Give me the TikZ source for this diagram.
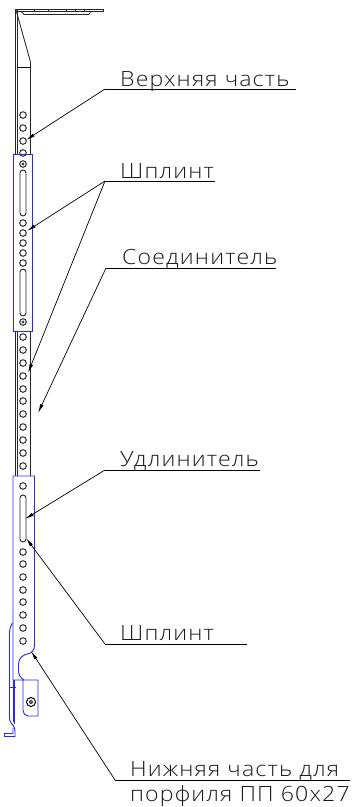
\documentclass[tikz,border=0pt]{standalone}
\usepackage{fontspec}
\setmainfont{Open Sans Light}[FakeStretch=1.1,LetterSpace=5.5]
\usetikzlibrary{arrows.meta}
\definecolor{partblue}{RGB}{40,40,245}
\tikzset{
  part/.style={draw=black!85,line width=0.85pt},
  bluepart/.style={draw=partblue,line width=0.95pt},
  hole/.style={circle,draw=black!85,line width=0.95pt,minimum size=6.6pt,inner sep=0pt},
  slot/.style={draw=black!85,line width=0.9pt,rounded corners=3pt},
  leader/.style={draw=black,line width=0.7pt},
  pointer/.style={draw=black,line width=0.7pt,-{Latex[length=9pt,width=3.5pt]}},
  lab/.style={anchor=base west,inner sep=0pt,font=\fontsize{21}{24}\selectfont,text=black!90}
}
\begin{document}
\begin{tikzpicture}[x=1pt,y=-1pt]
\useasboundingbox (0,0) rectangle (354,807);
% top bracket
\draw[part] (15,9) -- (103,9) -- (103,11) -- (15,11);
\draw[part] (21,11) -- (24,14.5) -- (89,14.5) -- (91,11);
\foreach \x in {34,48,66,75,84} \draw[part] (\x,9) -- (\x,11);
\draw[part] (15,10) -- (15,155) (17.8,10) -- (17.8,155);
\draw[part] (16,10) -- (30.5,62) -- (30.5,155);
\draw[line width=0.9pt] (18,67) -- (30,67);
% shaft
\draw[part] (15,331) -- (15,476) (17.8,331) -- (17.8,476) (30.5,331) -- (30.5,476);
% holes
\foreach \i/\y in {1/115,2/128,3/141,4/153,5/223,6/233,7/243,8/253,9/263,10/337,11/350,12/363,13/376,14/389,15/401,16/414,17/427,18/440,19/453,20/466,21/486,22/552,23/564,24/577,25/590,26/602,27/615,28/628,29/641}
  \node[hole] (h\i) at (23,\y) {};
\foreach \i/\y in {a/164,b/322} {
  \node[hole] (p\i) at (23,\y) {};
  \fill[black!75] (23,\y) circle (1.7);
}
% slots
\draw[slot] (20,170) rectangle (26,216);
\draw[slot] (20,269) rectangle (26,316);
\draw[slot] (20,495) rectangle (26,542);
% blue sleeves
\draw[bluepart] (13,154.5) rectangle (32.5,331);
\draw[bluepart] (13,680) -- (13,476) -- (34.5,476) -- (34.5,645)
  .. controls (34.5,650) and (32,653) .. (29,653.5)
  .. controls (23,654.5) and (18.5,658) .. (18.5,664) -- (18.5,671)
  .. controls (18.5,675) and (21,678) .. (24,680);
% lower part
\draw[bluepart] (13,680) -- (38,680) -- (38,716) -- (28,716)
  .. controls (25,716) and (23,713) .. (23,710) -- (23,680);
\draw[bluepart] (12.5,623) .. controls (10.5,626) and (9.5,629) .. (9.5,632) -- (9.5,718)
  .. controls (9.5,722) and (12,724) .. (13.5,726) .. controls (15,728) and (15,730) .. (15,732) -- (15,736.5) -- (4.5,736.5) -- (4.5,733.5) -- (13,733.5) -- (13,728);
\draw[bluepart] (9.5,687) -- (16,687) (14.5,680) -- (14.5,724) (13,680) -- (13,722);
\node[circle,draw=black,line width=1pt,minimum size=9pt,inner sep=0pt] (bolt) at (31,702) {};
\fill[black!80] (31,702) circle (2);
\fill[white] (31,702) circle (0.7);
% labels
\node[lab] (t1) at (120,86) {Верхняя часть};
\node[lab] (t2) at (120,178) {Шплинт};
\node[lab] (t3) at (122,264) {Соединитель};
\node[lab] (t4) at (120,466) {Удлинитель};
\node[lab] (t5) at (120,640) {Шплинт};
\node[lab] (t6) at (130,776) {Нижняя часть для};
\node[lab] (t7) at (130,801) {порфиля ПП 60х27};
% leaders
\coordinate (e1) at (105,89); \coordinate (e1b) at (296,89);
\coordinate (e2) at (105,181); \coordinate (e2b) at (215,181);
\coordinate (e3) at (106,268); \coordinate (e3b) at (276,268);
\coordinate (e4) at (105,470); \coordinate (e4b) at (260,470);
\coordinate (e5) at (105,644); \coordinate (e5b) at (247,644);
\coordinate (e6) at (115,780); \coordinate (e6b) at (350,780);
\coordinate (a1) at (26,140); \coordinate (a2) at (27,231);
\coordinate (a3) at (28,373); \coordinate (a4) at (38,413);
\coordinate (a5) at (25,519); \coordinate (a6) at (26,538);
\coordinate (a7) at (31,651);
\draw[leader] (e1b) -- (e1); \draw[pointer] (e1) -- (a1);
\draw[leader] (e2b) -- (e2); \draw[pointer] (e2) -- (a2); \draw[pointer] (e2) -- (a3);
\draw[leader] (e3b) -- (e3); \draw[pointer] (e3) -- (a4);
\draw[leader] (e4b) -- (e4); \draw[pointer] (e4) -- (a5);
\draw[leader] (e5b) -- (e5); \draw[pointer] (e5) -- (a6);
\draw[leader] (e6b) -- (e6); \draw[pointer] (e6) -- (a7);
\end{tikzpicture}
\end{document}
